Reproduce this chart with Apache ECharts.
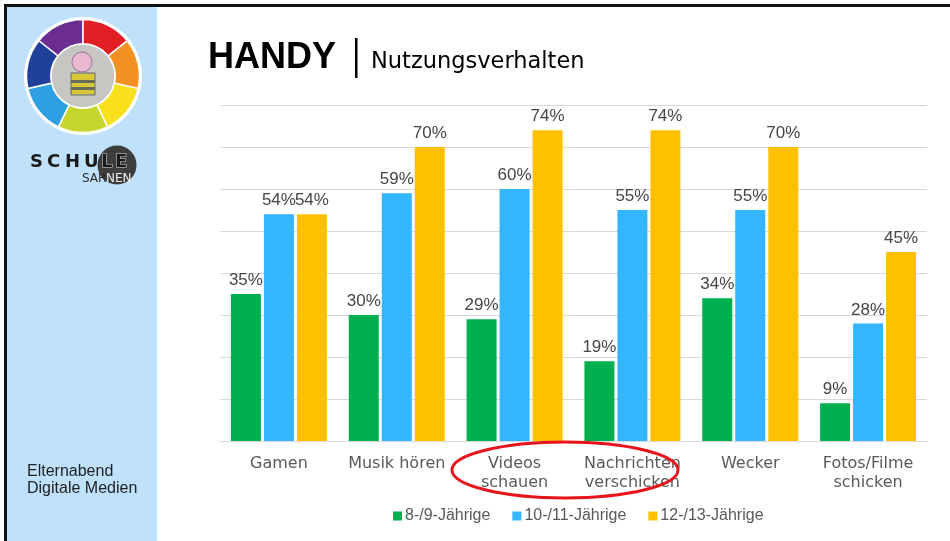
<!DOCTYPE html>
<html>
<head>
<meta charset="utf-8">
<script src="https://cdn.jsdelivr.net/npm/echarts@6/dist/echarts.min.js"></script>
<style>
  html, body { margin: 0; padding: 0; background: #fff; }
  #chart { width: 950px; height: 541px; }
</style>
</head>
<body>
<div id="chart"></div>
<script>
const categories = ['Gamen', 'Musik hören', 'Videos\nschauen', 'Nachrichten\nverschicken', 'Wecker', 'Fotos/Filme\nschicken'];
const seriesNames = ['8-/9-Jährige', '10-/11-Jährige', '12-/13-Jährige'];
const age8to9 = [35, 30, 29, 19, 34, 9];
const age10to11 = [54, 59, 60, 55, 55, 28];
const age12to13 = [54, 70, 74, 74, 70, 45];
const colors = ['#00b050', '#33b5ff', '#ffc000'];

// logo ring segments (degrees, clockwise from 3 o'clock)
const ringColors = ['#6b2d90', '#e31e24', '#f39222', '#f8e01c', '#c6d62c', '#2e9fe0', '#21409a'];
const ringStart = -141.4;

const chart = echarts.init(document.getElementById('chart'));

const font = 'DejaVu Sans';
const sans = 'Liberation Sans';
const logoCx = 83, logoCy = 76;

const ring = ringColors.map((c, i) => {
  const a0 = (ringStart + i * 360 / 7) * Math.PI / 180;
  const a1 = (ringStart + (i + 1) * 360 / 7) * Math.PI / 180;
  return {
    type: 'sector',
    shape: { cx: logoCx, cy: logoCy, r: 56.5, r0: 32, startAngle: a0, endAngle: a1 },
    style: { fill: c, stroke: '#fff', lineWidth: 1.5 },
    z: 3
  };
});

// letters of the school logo, spaced out
const schuLetters = [['S', 30], ['C', 47], ['H', 65], ['U', 84]].map(([t, x]) => ({
  type: 'text', x, y: 162,
  style: { text: t, font: 'bold 18px ' + font, fill: '#1a1a1a', verticalAlign: 'middle' },
  z: 4
}));

const makeSeries = (name, data, color) => ({
  name,
  type: 'bar',
  data,
  barWidth: 30,
  barGap: '10%',
  itemStyle: { color },
  label: {
    show: true,
    position: 'top',
    distance: 5,
    formatter: '{c}%',
    color: '#454545',
    fontFamily: sans,
    fontSize: 17
  }
});

chart.setOption({
  backgroundColor: '#fff',
  animation: false,
  grid: { left: 220, right: 23, top: 105, bottom: 100 },
  legend: {
    data: seriesNames,
    left: 388,
    top: 503,
    icon: 'rect',
    itemWidth: 9,
    itemHeight: 9,
    itemGap: 22,
    textStyle: { color: '#595959', fontFamily: sans, fontSize: 16, padding: [0, 0, 0, -2] }
  },
  xAxis: {
    type: 'category',
    data: categories,
    axisLine: { lineStyle: { color: '#d9d9d9', width: 1 } },
    axisTick: { show: false },
    axisLabel: {
      color: '#595959',
      fontFamily: font,
      fontSize: 16,
      lineHeight: 19,
      margin: 13,
      interval: 0
    }
  },
  yAxis: {
    type: 'value',
    min: 0,
    max: 80,
    interval: 10,
    axisLabel: { show: false },
    axisLine: { show: false },
    axisTick: { show: false },
    splitLine: { lineStyle: { color: '#d9d9d9' } }
  },
  series: [
    makeSeries(seriesNames[0], age8to9, colors[0]),
    makeSeries(seriesNames[1], age10to11, colors[1]),
    makeSeries(seriesNames[2], age12to13, colors[2])
  ],
  graphic: [
    // slide frame and sidebar
    { type: 'rect', shape: { x: 4, y: 4, width: 946, height: 3 }, style: { fill: '#111' }, z: 5 },
    { type: 'rect', shape: { x: 4, y: 4, width: 3, height: 537 }, style: { fill: '#111' }, z: 5 },
    { type: 'rect', shape: { x: 7, y: 7, width: 150, height: 534 }, style: { fill: '#bfe1fb' }, z: 1 },
    // logo
    { type: 'circle', shape: { cx: logoCx, cy: logoCy, r: 59 }, style: { fill: '#fff' }, z: 2 },
    ...ring,
    { type: 'circle', shape: { cx: logoCx, cy: logoCy, r: 32 }, style: { fill: '#c8c6c2', stroke: '#fff', lineWidth: 1.5 }, z: 4 },
    { type: 'circle', shape: { cx: logoCx - 1, cy: logoCy - 14, r: 10 }, style: { fill: '#e9b8cf', stroke: '#9b6fa0', lineWidth: 1 }, z: 5 },
    { type: 'rect', shape: { x: logoCx - 12, y: logoCy - 3, width: 24, height: 22 }, style: { fill: '#d9c63a', stroke: '#5d6b8a', lineWidth: 1 }, z: 5 },
    { type: 'rect', shape: { x: logoCx - 12, y: logoCy + 4, width: 24, height: 3 }, style: { fill: '#6a6a55' }, z: 6 },
    { type: 'rect', shape: { x: logoCx - 12, y: logoCy + 11, width: 24, height: 3 }, style: { fill: '#6a6a55' }, z: 6 },
    // SCHULE SARNEN
    { type: 'circle', shape: { cx: 117, cy: 165, r: 19.5 }, style: { fill: '#3d3d3d' }, z: 3 },
    ...schuLetters,
    { type: 'text', x: 101, y: 162, style: { text: 'L', font: 'bold 18px ' + font, fill: '#1a1a1a', stroke: '#d8d8d8', lineWidth: 1, verticalAlign: 'middle' }, z: 4 },
    { type: 'text', x: 115, y: 162, style: { text: 'E', font: 'bold 18px ' + font, fill: '#1a1a1a', stroke: '#d8d8d8', lineWidth: 1, verticalAlign: 'middle' }, z: 4 },
    { type: 'text', x: 82, y: 179, style: { text: 'SAR', font: '12px ' + font, fill: '#2a2a2a', verticalAlign: 'middle' }, z: 4 },
    { type: 'text', x: 106, y: 179, style: { text: 'NEN', font: '12px ' + font, fill: '#eeeeee', verticalAlign: 'middle' }, z: 4 },
    // sidebar footer
    { type: 'text', x: 27, y: 472, style: { text: 'Elternabend', font: '16px ' + sans, fill: '#222', verticalAlign: 'middle' }, z: 4 },
    { type: 'text', x: 27, y: 489, style: { text: 'Digitale Medien', font: '16px ' + sans, fill: '#222', verticalAlign: 'middle' }, z: 4 },
    // title
    { type: 'text', x: 208, y: 58, style: { text: 'HANDY', font: 'bold 36px ' + sans, fill: '#000', verticalAlign: 'middle' }, z: 4 },
    { type: 'rect', shape: { x: 355, y: 38, width: 2.5, height: 40 }, style: { fill: '#000' }, z: 4 },
    { type: 'text', x: 371, y: 62, style: { text: 'Nutzungsverhalten', font: '22.5px ' + font, fill: '#000', verticalAlign: 'middle' }, z: 4 },
    // highlight ellipse
    { type: 'ellipse', shape: { cx: 565, cy: 470, rx: 113, ry: 28 }, style: { fill: null, stroke: '#e8141b', lineWidth: 3 }, z: 10 }
  ]
});
</script>
</body>
</html>
